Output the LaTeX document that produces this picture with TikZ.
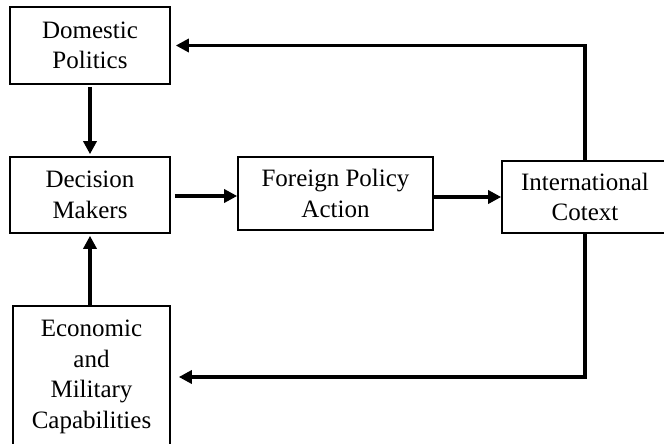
\documentclass[tikz,border=0pt]{standalone}
\usepackage{fontspec}
\setmainfont{Liberation Serif}
\usetikzlibrary{arrows.meta,positioning}

\begin{document}
\begin{tikzpicture}[
  x=1pt,y=-1pt,
  box/.style={draw,line width=1.6pt,align=center,inner sep=0pt,font=\fontsize{25}{30.5}\selectfont},
  flow/.style={-{Triangle[length=13pt,width=13pt]},line width=3.8pt}
]
  \useasboundingbox (0,0) rectangle (664,444);
  \clip (0,0) rectangle (664,444);
  \node[box,minimum width=160,minimum height=77] (dom) at (90,45.5) {Domestic\\Politics};
  \node[box,minimum width=160,minimum height=76] (dec) at (90,195) {Decision\\Makers};
  \node[box,minimum width=195,minimum height=73] (fpa) at (335.5,193.5) {Foreign Policy\\Action};
  \node[box,minimum width=166,minimum height=72] (ict) at (585,197) {International\\Cotext};
  \node[box,minimum width=157,minimum height=142] (eco) at (91.5,377) {Economic\\and\\Military\\Capabilities};
  % arrows
  \draw[flow,shorten >=2pt,shorten <=2pt] (dom) -- (dec);
  \draw[flow,shorten >=2pt] (dec.south |- eco.north) -- (dec.south);
  \draw[flow,shorten <=4pt] (dec.east |- 0,196) -- (fpa.west |- 0,196);
  \draw[flow] (fpa.east |- 0,197) -- (ict.west);
  \draw[flow,shorten >=5pt] (ict.north) |- (dom.east);
  \draw[flow,shorten >=8pt] (ict.south) |- (eco.east);
\end{tikzpicture}
\end{document}
